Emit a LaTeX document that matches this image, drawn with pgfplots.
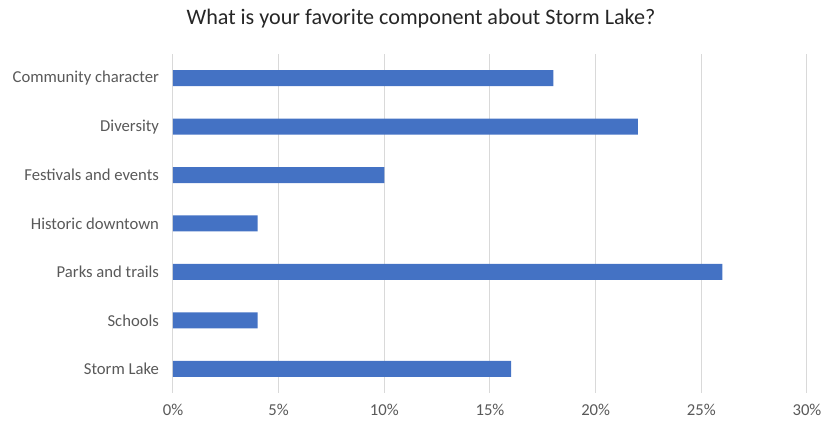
\documentclass[border=0pt]{standalone}
\usepackage{pgfplots}
\pgfplotsset{compat=1.18}
\usepackage{fontspec}
\setmainfont{Carlito}
\definecolor{barblue}{HTML}{4472C4}
\definecolor{gridgrey}{HTML}{D9D9D9}
\definecolor{ticktext}{HTML}{595959}
\begin{document}
\begin{tikzpicture}
\begin{axis}[
  at={(0,0)}, anchor=south west,
  scale only axis, width=475.5pt, height=254.25pt,
  xbar, bar width=12pt,
  xmin=0, xmax=30, ymin=-0.5, ymax=6.5,
  xtick={0,5,...,30},
  xticklabel={\pgfmathprintnumber{\tick}\%},
  /pgf/number format/assume math mode=true,
  ytick={0,...,6},
  yticklabels={Storm Lake,Schools,Parks and trails,Historic downtown,Festivals and events,Diversity,Community character},
  axis line style={draw=none},
  major tick length=0pt,
  xmajorgrids, grid style={gridgrey, line width=0.75pt},
  tick label style={font=\fontsize{12.5}{14}\selectfont, text=ticktext},
  xticklabel style={yshift=-5pt},
  yticklabel style={xshift=-7pt},
  clip=false,
]
\addplot[draw=none, fill=barblue] coordinates {
  (16,0) (4,1) (26,2) (4,3) (10,4) (22,5) (18,6)
};
\end{axis}
\node[font=\fontsize{16.6}{20}\selectfont, text=black!85] at (186pt,281pt) {What is your favorite component about Storm Lake?};
\pgfresetboundingbox
\useasboundingbox (-129.75pt,-23.25pt) rectangle (486.75pt,294.75pt);
\end{tikzpicture}
\end{document}
